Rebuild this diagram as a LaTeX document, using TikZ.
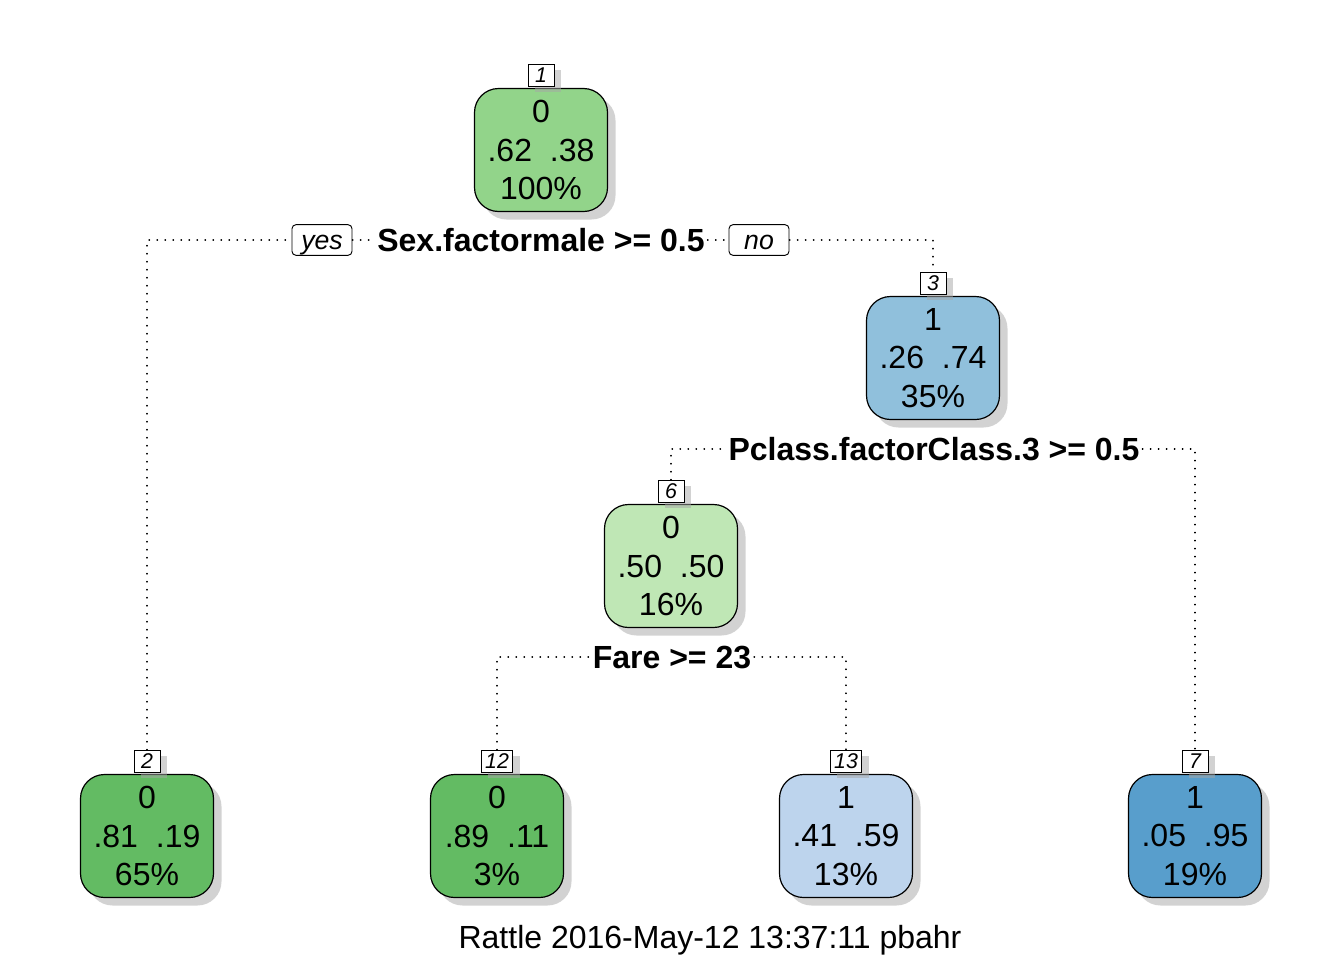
\documentclass[tikz,border=0pt]{standalone}
\usepackage{fontspec}
\setmainfont{Liberation Sans}
\usepackage{xcolor}
\usetikzlibrary{positioning, shadows}
\definecolor{gnmid}{RGB}{146,212,138}
\definecolor{gndark}{RGB}{99,187,99}
\definecolor{gnlight}{RGB}{191,231,181}
\definecolor{bumid}{RGB}{144,192,220}
\definecolor{bulight}{RGB}{189,212,237}
\definecolor{budark}{RGB}{88,158,204}
\tikzset{
  treenode/.style={rectangle, draw, rounded corners=18pt, minimum width=99.75pt, minimum height=92.25pt, inner sep=0pt, align=center, line width=0.9pt, font=\fontsize{24}{29}\selectfont, drop shadow={shadow xshift=6pt, shadow yshift=-6pt, fill=black!35}},
  numbox/.style={rectangle, draw, fill=white, inner xsep=3pt, inner ysep=0pt, minimum width=19.5pt, minimum height=16.5pt, text height=11pt, text depth=1pt, line width=0.7pt, font=\fontsize{16}{16}\selectfont\itshape, drop shadow={shadow xshift=5pt, shadow yshift=-4pt, fill=black!35}},
  yesno/.style={rectangle, draw, fill=white, rounded corners=3pt, minimum width=45pt, minimum height=23pt, inner sep=0pt, text height=15pt, text depth=1pt, line width=0.7pt, font=\fontsize{20}{20}\selectfont\itshape},
  splitlab/.style={font=\fontsize{24}{24}\selectfont\bfseries, inner sep=2pt},
  dotline/.style={line width=1.1pt, dash pattern=on 0.3pt off 5.7pt, line cap=round},
}

\begin{document}
\begin{tikzpicture}[x=0.75pt, y=-0.75pt]
    \useasboundingbox (0,0) rectangle (1344,960);
    % nodes
    \node[treenode, fill=gnmid] (n1) at (541,150) {0\\.62\hspace{0.56em}.38\\100\%};
    \node[treenode, fill=bumid] (n3) at (933,358) {1\\.26\hspace{0.56em}.74\\35\%};
    \node[treenode, fill=gnlight] (n6) at (671,566) {0\\.50\hspace{0.56em}.50\\16\%};
    \node[treenode, fill=gndark] (n2) at (147,836) {0\\.81\hspace{0.56em}.19\\65\%};
    \node[treenode, fill=gndark] (n12) at (497,836) {0\\.89\hspace{0.56em}.11\\3\%};
    \node[treenode, fill=bulight] (n13) at (846,836) {1\\.41\hspace{0.56em}.59\\13\%};
    \node[treenode, fill=budark] (n7) at (1195,836) {1\\.05\hspace{0.56em}.95\\19\%};
    % node numbers
    \node[numbox, above=0.8pt of n1] (l1) {1};
    \node[numbox, above=0.8pt of n3] (l3) {3};
    \node[numbox, above=0.8pt of n6] (l6) {6};
    \node[numbox, above=0.8pt of n2] (l2) {2};
    \node[numbox, above=0.8pt of n12] (l12) {12};
    \node[numbox, above=0.8pt of n13] (l13) {13};
    \node[numbox, above=0.8pt of n7] (l7) {7};
    % splits
    \node[splitlab] (s1) at (541,240) {Sex.factormale >= 0.5};
    \node[yesno] (yes) at (322,240) {yes};
    \node[yesno] (no) at (759,240) {no};
    \node[splitlab] (s2) at (934,449) {Pclass.factorClass.3 >= 0.5};
    \node[splitlab] (s3) at (672,657) {Fare >= 23};
    \draw[dotline] (l2.north) |- (yes.west);
    \draw[dotline] (yes.east) -- (s1.west);
    \draw[dotline] (s1.east) -- (no.west);
    \draw[dotline] (no.east) -| (l3.north);
    \draw[dotline] (l6.north) |- (s2.west);
    \draw[dotline] (s2.east) -| (l7.north);
    \draw[dotline] (l12.north) |- (s3.west);
    \draw[dotline] (s3.east) -| (l13.north);
    \node[font=\fontsize{24}{24}\selectfont] (foot) at (710,940) {Rattle 2016-May-12 13:37:11 pbahr};
\end{tikzpicture}
\end{document}
